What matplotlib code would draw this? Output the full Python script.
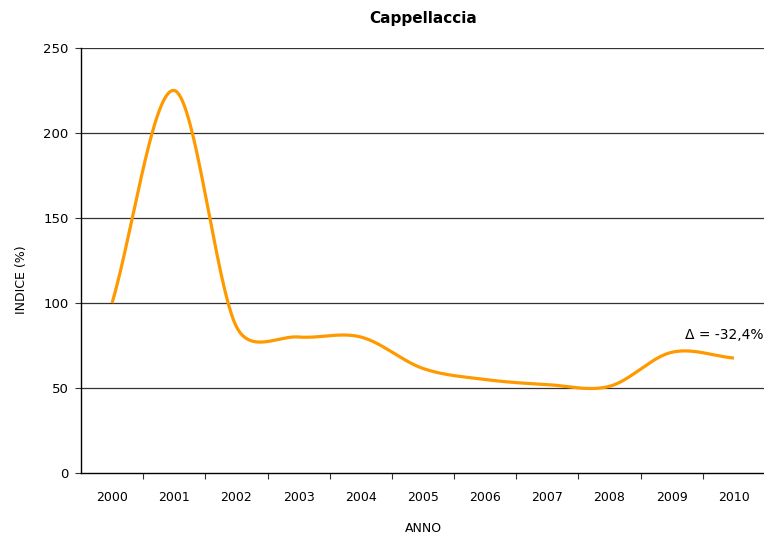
import numpy as np
import matplotlib
matplotlib.use("Agg")
import matplotlib.pyplot as plt

years = ["2000", "2001", "2002", "2003", "2004", "2005",
         "2006", "2007", "2008", "2009", "2010"]
index_values = [100, 225, 86, 80, 80, 61.5, 55, 52, 51, 71, 67.6]
y_ticks = [0, 50, 100, 150, 200, 250]
delta_label = "Δ = -32,4%"

W, H = 764, 538
AX_BOX = (81, 65, 684, 425)  # left, bottom, width, height in pixels
Y_MAX = 250


def smooth_curve(xs, ys, sx, sy, steps=80, limit=0.5):
    """Cubic Bezier smoothing (tangent/6 handles), each handle capped at a
    fraction of the adjacent on-screen segment length."""
    xs = np.asarray(xs, float)
    ys = np.asarray(ys, float)
    n = len(xs)
    P = np.column_stack([xs * sx, ys * sy])
    d = np.hypot(*np.diff(P, axis=0).T)

    def cap(v, max_len):
        L = np.hypot(*v)
        return v if L <= max_len or L == 0 else v * (max_len / L)

    out_c, in_c = [None] * n, [None] * n
    for i in range(n):
        if i == 0:
            T = (P[1] - P[0]) / 3.0
        elif i == n - 1:
            T = (P[-1] - P[-2]) / 3.0
        else:
            T = (P[i + 1] - P[i - 1]) / 6.0
        if i < n - 1:
            out_c[i] = P[i] + cap(T, limit * d[i])
        if i > 0:
            in_c[i] = P[i] - cap(T, limit * d[i - 1])
    t = np.linspace(0, 1, steps)[:, None]
    pts = []
    for i in range(n - 1):
        p0, c1, c2, p3 = P[i], out_c[i], in_c[i + 1], P[i + 1]
        pts.append((1 - t) ** 3 * p0 + 3 * (1 - t) ** 2 * t * c1
                   + 3 * (1 - t) * t ** 2 * c2 + t ** 3 * p3)
    pts = np.vstack(pts)
    return pts[:, 0] / sx, pts[:, 1] / sy


fig = plt.figure(figsize=(W / 100, H / 100), dpi=100)
l, b, w, h = AX_BOX
ax = fig.add_axes([l / W, b / H, w / W, h / H])

x = np.arange(len(years))
px_per_x = w / len(years)
px_per_y = h / Y_MAX
cx, cy = smooth_curve(x, index_values, px_per_x, px_per_y)
ax.plot(cx, cy, color="#FF9900", lw=2.3, solid_capstyle="butt", zorder=3)

ax.set_xlim(-0.5, len(years) - 0.5)
ax.set_ylim(0, Y_MAX)
ax.set_yticks(y_ticks)
ax.set_yticklabels([str(v) for v in y_ticks], fontsize=9.5)
for v in y_ticks[1:]:
    ax.axhline(v, color="#333333", lw=0.9, zorder=1)

ax.set_xticks(x)
ax.set_xticklabels(years, fontsize=9)
ax.set_xticks(np.arange(0.5, len(years) - 0.5, 1.0), minor=True)
ax.tick_params(axis="x", which="major", length=0, pad=13)
ax.tick_params(axis="x", which="minor", length=4, width=0.8, direction="out", color="#333333")
ax.tick_params(axis="y", length=4, width=0.8, direction="out", pad=5, color="#333333")

for s in ["top", "right"]:
    ax.spines[s].set_visible(False)
for s in ["left", "bottom"]:
    ax.spines[s].set_color("black")
    ax.spines[s].set_linewidth(1.0)

ax.text(9.21, 81, delta_label, fontsize=10, ha="left", va="center")

fig.text(423 / W, 1 - 19 / H, "Cappellaccia", fontsize=11, fontweight="bold",
         ha="center", va="center")
fig.text(423 / W, 1 - 528 / H, "ANNO", fontsize=9, ha="center", va="center")
fig.text(22 / W, 1 - 280 / H, "INDICE (%)", fontsize=9, ha="center", va="center",
         rotation=90)

fig.savefig("out.png", dpi=100)
